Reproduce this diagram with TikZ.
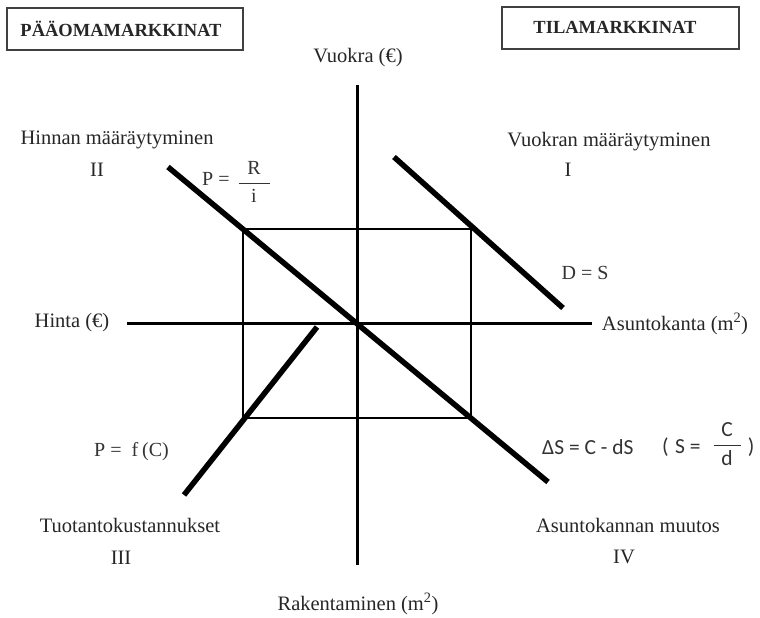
\documentclass[tikz,border=0pt]{standalone}
\usepackage{fontspec}
\setmainfont{Liberation Serif}
\newfontfamily\eqsans{Carlito}
\begin{document}
\begin{tikzpicture}[x=1pt,y=-1pt,
  lbl/.style={font=\fontsize{20.5}{22}\selectfont, text=black!85, inner sep=0pt},
  ttl/.style={font=\fontsize{18.5}{20}\selectfont\bfseries, text=black!85, inner sep=0pt},
  tbox/.style={draw=black!75, line width=1.3pt},
  eq/.style={font=\fontsize{20}{22}\selectfont, text=black!80, inner sep=0pt},
  eqs/.style={font=\eqsans\fontsize{21.5}{23}\selectfont, text=black!80, inner sep=0pt},
  axis/.style={line width=3pt},
  curve/.style={line width=5.5pt},
  frame/.style={line width=2pt}]
\useasboundingbox (0,0) rectangle (760,618);
\fill[white] (0,0) rectangle (760,618);
% title boxes
\draw[tbox] (7,8) rectangle (243,50);
\node[ttl] (t1) at (121,28.5) {PÄÄOMAMARKKINAT};
\draw[tbox] (502,7) rectangle (739,49);
\node[ttl] (t2) at (615,27.5) {TILAMARKKINAT};
% axes coordinates
\coordinate (o) at (357,323);
\coordinate (vt) at (357,85);
\coordinate (vb) at (357,565);
\coordinate (hl) at (127,323);
\coordinate (hr) at (592,323);
% rectangle corners
\coordinate (r1) at (243,229);
\coordinate (r2) at (471,229);
\coordinate (r3) at (471,418);
\coordinate (r4) at (243,418);
\draw[frame] (r1) -- (r2) -- (r3) -- (r4) -- cycle;
\draw[axis] (vt) -- (vb);
\draw[axis] (hl) -- (hr);
% curves
\coordinate (c2a) at (168,167);
\coordinate (c2b) at (548,482);
\draw[curve] (c2a) -- (c2b);
\coordinate (c1a) at (394,157);
\coordinate (c1b) at (563,308);
\draw[curve] (c1a) -- (c1b);
\coordinate (c3a) at (184,495);
\coordinate (c3b) at (317,327);
\draw[curve] (c3a) -- (c3b);
% axis labels
\node[lbl] (vuokra) at (358,58) {Vuokra (€)};
\node[lbl] (rak) at (358,604) {Rakentaminen (m\textsuperscript{2})};
\node[lbl] (hinta) at (72,323) {Hinta (€)};
\node[lbl] (kanta) at (675,324) {Asuntokanta (m\textsuperscript{2})};
% quadrant labels
\node[lbl] (q2) at (117,140) {Hinnan määräytyminen};
\node[lbl] (n2) at (97,170) {II};
\node[lbl] (q1) at (609,142) {Vuokran määräytyminen};
\node[lbl] (n1) at (568,170) {I};
\node[lbl] (q3) at (130,525) {Tuotantokustannukset};
\node[lbl] (n3) at (121,558) {III};
\node[lbl] (q4) at (628,525) {Asuntokannan muutos};
\node[lbl] (n4) at (624,557) {IV};
% equations
\node[eq, anchor=west] (eqP) at (202,179) {P =};
\node[eq] (eqPf) at (254,182) {$\displaystyle\frac{\makebox[31pt]{R}}{\hbox{i}}$};
\node[eq] (eqD) at (585,273) {D = S};
\node[eq, anchor=west] (eqF) at (94,452) {P =\hspace{0.5em}f\hspace{0.2em}(C)};
\node[eqs, anchor=west] (eqS) at (542,447) {ΔS = C - dS};
\node[eqs, anchor=west] (eqS2) at (662,447) {(\hspace{0.3em}S =};
\node[eqs] (eqSf) at (727,444) {$\displaystyle\frac{\makebox[27pt]{C}}{\hbox{d}}$};
\node[eqs] (eqS3) at (751,447) {)};
\end{tikzpicture}
\end{document}
